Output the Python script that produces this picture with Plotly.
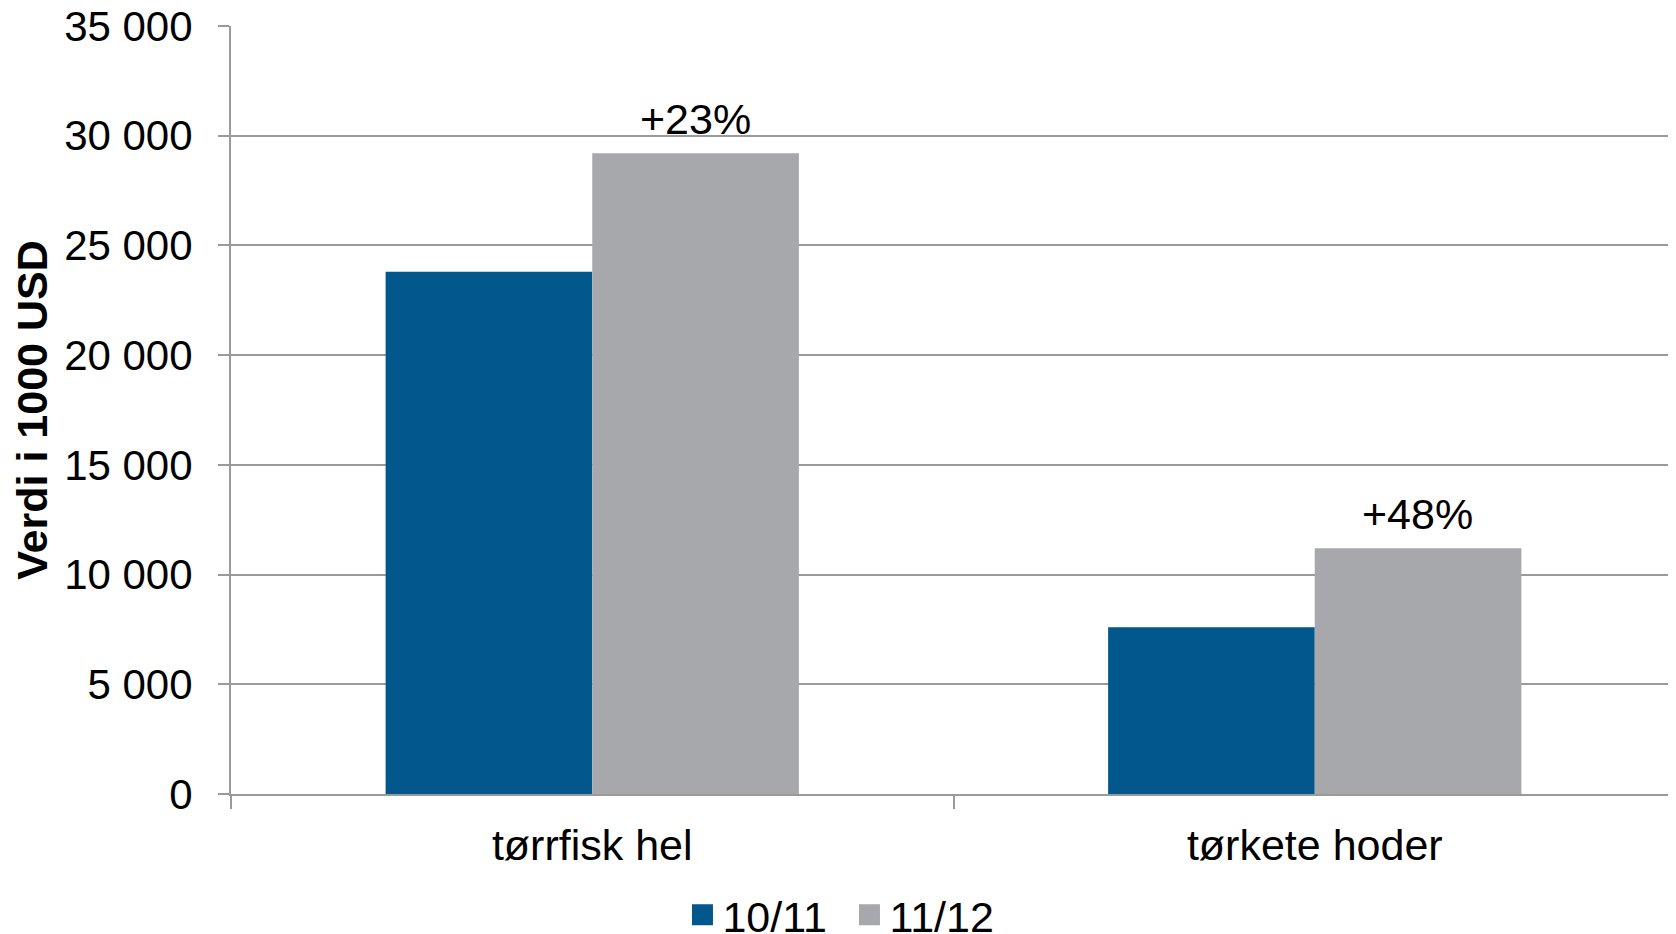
import plotly.graph_objects as go

categories = ["tørrfisk hel", "tørkete hoder"]
series_names = ["10/11", "11/12"]
values_1011 = [23800, 7600]
values_1112 = [29200, 11200]
growth_labels = ["+23%", "+48%"]
y_tickvals = [0, 5000, 10000, 15000, 20000, 25000, 30000, 35000]
y_ticktext = ["0", "5 000", "10 000", "15 000", "20 000", "25 000", "30 000", "35 000"]

colors = ["#02578C", "#A7A8AC"]
FONT = "Liberation Sans, Arial, sans-serif"
GRID = "#9A9A9A"

fig = go.Figure()
for name, vals, col in zip(series_names, [values_1011, values_1112], colors):
    fig.add_trace(go.Bar(x=categories, y=vals, name=name, marker=dict(color=col, line=dict(width=0)),
                         showlegend=False))
# legend proxies with larger square symbols
for name, col in zip(series_names, colors):
    fig.add_trace(go.Scatter(x=[None], y=[None], mode="markers", name=name,
                             marker=dict(symbol="square", size=16, color=col,
                                         line=dict(color=col, width=5))))

for cat, val, lab in zip(categories, values_1112, growth_labels):
    fig.add_annotation(x=cat, y=val, text=lab, showarrow=False, xshift=103, yanchor="bottom",
                       yshift=8, font=dict(size=43, color="black", family=FONT))

fig.update_layout(
    width=1676, height=934,
    margin=dict(l=223, r=8, t=18, b=148, autoexpand=False),
    paper_bgcolor="white", plot_bgcolor="white",
    barmode="group", bargap=0.428, bargroupgap=0,
    font=dict(family=FONT, size=42, color="black"),
    legend=dict(orientation="h", xref="paper", x=0.428, xanchor="center",
                yref="container", y=0.029, yanchor="middle",
                font=dict(size=43), itemwidth=30, entrywidth=122, tracegroupgap=0),
    xaxis=dict(type="category", tickson="boundaries", ticks="outside", ticklen=13, tickwidth=2,
               tickcolor=GRID, showline=True, linecolor=GRID, linewidth=2, showgrid=False,
               tickfont=dict(size=43), ticklabelstandoff=12, automargin=False),
    yaxis=dict(range=[0, 35000], tickvals=y_tickvals, ticktext=y_ticktext, ticks="outside",
               ticklen=11, tickwidth=2, tickcolor=GRID, showline=True, linecolor=GRID, linewidth=2,
               showgrid=True, gridcolor=GRID, gridwidth=2, zeroline=False,
               tickfont=dict(size=42), ticklabelstandoff=17, automargin=False,
               ticklabeloverflow="allow",
               title=dict(text="<b>Verdi i 1000 USD</b>", font=dict(size=43), standoff=6)),
)

fig.write_html("out.html")
